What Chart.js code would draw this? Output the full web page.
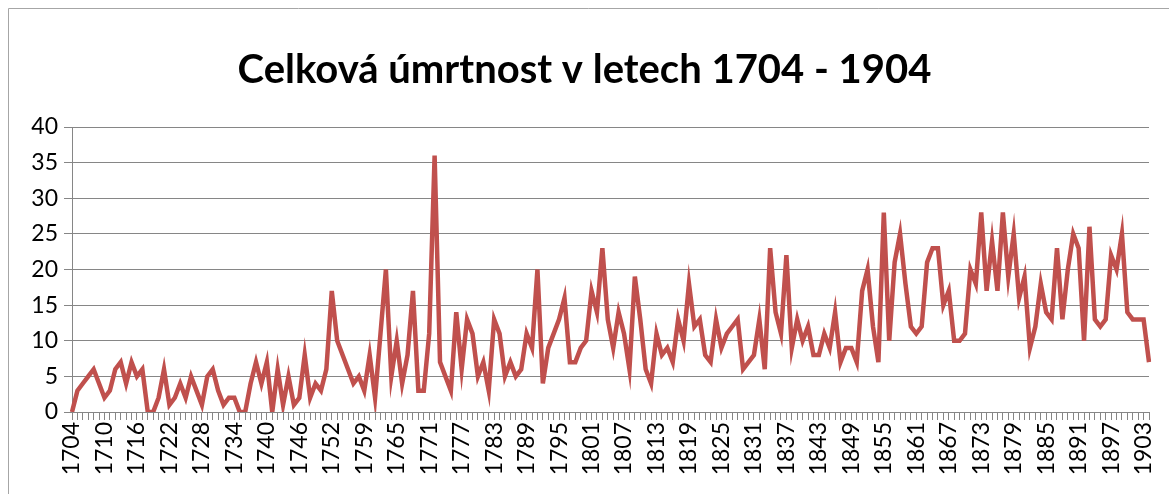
<!DOCTYPE html>
<html>
<head>
<meta charset="utf-8">
<script src="https://cdn.jsdelivr.net/npm/chart.js@4.4.1/dist/chart.umd.min.js"></script>
<style>
html, body { margin: 0; padding: 0; background: #fff; }
#wrap { width: 1169px; height: 494px; }
</style>
</head>
<body>
<div id="wrap"><canvas id="umrtnostChart"></canvas></div>
<script>
// roky (1756 v tabulce chybi)
const years = [
    1704, 1705, 1706, 1707, 1708, 1709, 1710, 1711, 1712, 1713,
    1714, 1715, 1716, 1717, 1718, 1719, 1720, 1721, 1722, 1723,
    1724, 1725, 1726, 1727, 1728, 1729, 1730, 1731, 1732, 1733,
    1734, 1735, 1736, 1737, 1738, 1739, 1740, 1741, 1742, 1743,
    1744, 1745, 1746, 1747, 1748, 1749, 1750, 1751, 1752, 1753,
    1754, 1755, 1757, 1758, 1759, 1760, 1761, 1762, 1763, 1764,
    1765, 1766, 1767, 1768, 1769, 1770, 1771, 1772, 1773, 1774,
    1775, 1776, 1777, 1778, 1779, 1780, 1781, 1782, 1783, 1784,
    1785, 1786, 1787, 1788, 1789, 1790, 1791, 1792, 1793, 1794,
    1795, 1796, 1797, 1798, 1799, 1800, 1801, 1802, 1803, 1804,
    1805, 1806, 1807, 1808, 1809, 1810, 1811, 1812, 1813, 1814,
    1815, 1816, 1817, 1818, 1819, 1820, 1821, 1822, 1823, 1824,
    1825, 1826, 1827, 1828, 1829, 1830, 1831, 1832, 1833, 1834,
    1835, 1836, 1837, 1838, 1839, 1840, 1841, 1842, 1843, 1844,
    1845, 1846, 1847, 1848, 1849, 1850, 1851, 1852, 1853, 1854,
    1855, 1856, 1857, 1858, 1859, 1860, 1861, 1862, 1863, 1864,
    1865, 1866, 1867, 1868, 1869, 1870, 1871, 1872, 1873, 1874,
    1875, 1876, 1877, 1878, 1879, 1880, 1881, 1882, 1883, 1884,
    1885, 1886, 1887, 1888, 1889, 1890, 1891, 1892, 1893, 1894,
    1895, 1896, 1897, 1898, 1899, 1900, 1901, 1902, 1903, 1904
];

// pocet umrti za rok
const deaths = [
    0, 3, 4, 5, 6, 4, 2, 3, 6, 7,
    4, 7, 5, 6, 0, 0, 2, 6, 1, 2,
    4, 2, 5, 3, 1, 5, 6, 3, 1, 2,
    2, 0, 0, 4, 7, 4, 7, 0, 6, 1,
    5, 1, 2, 8, 2, 4, 3, 6, 17, 10,
    8, 6, 4, 5, 3, 8, 2, 11, 20, 5,
    10, 4, 8, 17, 3, 3, 11, 36, 7, 5,
    3, 14, 6, 13, 11, 5, 7, 3, 13, 11,
    5, 7, 5, 6, 11, 9, 20, 4, 9, 11,
    13, 16, 7, 7, 9, 10, 17, 14, 23, 13,
    9, 14, 11, 6, 19, 13, 6, 4, 11, 8,
    9, 7, 13, 10, 18, 12, 13, 8, 7, 13,
    9, 11, 12, 13, 6, 7, 8, 13, 6, 23,
    14, 11, 22, 9, 13, 10, 12, 8, 8, 11,
    9, 14, 7, 9, 9, 7, 17, 20, 12, 7,
    28, 10, 21, 25, 18, 12, 11, 12, 21, 23,
    23, 15, 17, 10, 10, 11, 20, 18, 28, 17,
    24, 17, 28, 19, 25, 16, 19, 9, 12, 18,
    14, 13, 23, 13, 20, 25, 23, 10, 26, 13,
    12, 13, 22, 20, 25, 14, 13, 13, 13, 7
];

const yMin = 0, yMax = 40, yStep = 5;
const labelEvery = 6;

const gridGray = '#868686';

// ramecek grafu jako v Excelu
const frame = {
    id: 'frame',
    afterDraw(chart) {
        const c = chart.ctx;
        c.save();
        c.strokeStyle = '#a6a6a6';
        c.lineWidth = 1;
        c.beginPath();
        c.moveTo(8.5, chart.height);
        c.lineTo(8.5, 8.5);
        c.lineTo(chart.width, 8.5);
        c.stroke();
        c.restore();
    }
};

const ctx = document.getElementById('umrtnostChart').getContext('2d');
const umrtnostChart = new Chart(ctx, {
    type: 'line',
    data: {
        labels: years,
        datasets: [{
            label: 'Úmrtnost',
            data: deaths,
            borderColor: '#C0504D',
            borderWidth: 4.5,
            pointRadius: 0,
            tension: 0,
            fill: false
        }]
    },
    options: {
        responsive: true,
        maintainAspectRatio: false,
        animation: false,
        layout: { padding: { left: 20, right: 20, top: 0, bottom: 0 } },
        plugins: {
            legend: { display: false },
            tooltip: { enabled: false },
            title: {
                display: true,
                text: 'Celková úmrtnost v letech 1704 - 1904',
                color: '#000',
                font: { family: 'Lato', size: 40, weight: 'bold', lineHeight: 1.2 },
                padding: { top: 46, bottom: 33 }
            }
        },
        scales: {
            x: {
                offset: false,
                grid: { drawOnChartArea: false, drawTicks: true, tickLength: 8, color: gridGray },
                border: { color: gridGray },
                ticks: {
                    autoSkip: false,
                    maxRotation: 90,
                    minRotation: 90,
                    padding: 2,
                    color: '#000',
                    font: { family: 'Lato', size: 23 },
                    callback: function (v, i) {
                        return i % labelEvery === 0 ? this.getLabelForValue(v) : '';
                    }
                },
                afterFit: (s) => {
                    s.height = 82;
                    s.paddingLeft = 0;
                    s.paddingRight = 0;
                }
            },
            y: {
                min: yMin,
                max: yMax,
                grid: { color: gridGray, tickLength: 8 },
                border: { color: gridGray },
                ticks: {
                    stepSize: yStep,
                    padding: 6,
                    color: '#000',
                    font: { family: 'Lato', size: 23 }
                },
                afterFit: (s) => { s.width = 52; }
            }
        }
    },
    plugins: [frame]
});
</script>
</body>
</html>
